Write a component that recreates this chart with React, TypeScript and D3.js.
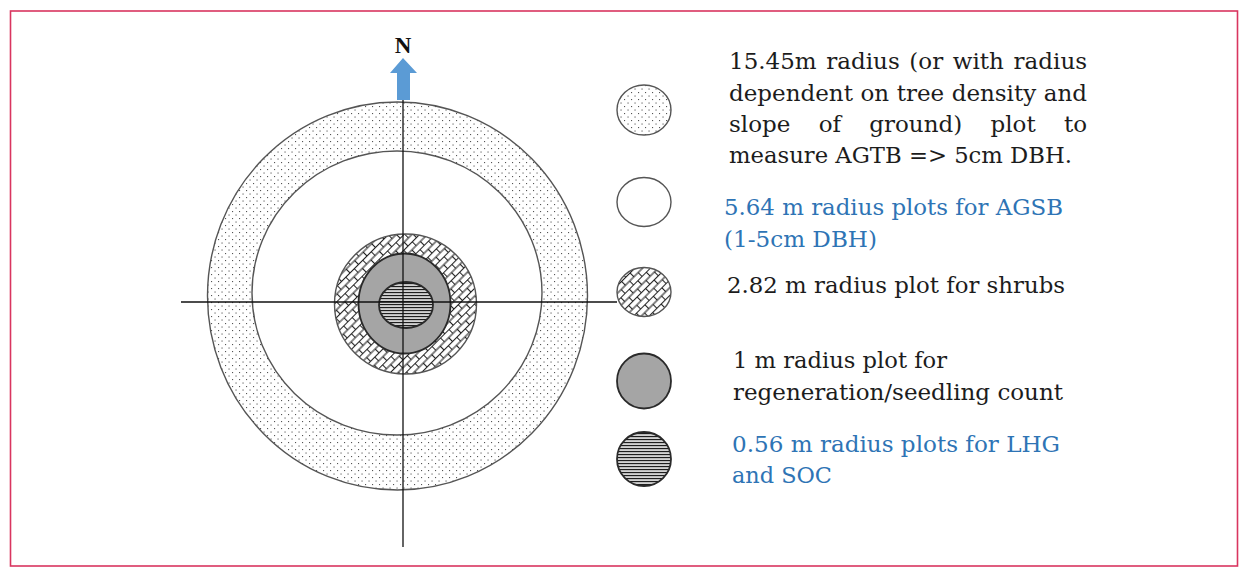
import React, { useEffect, useRef } from 'react';
import * as d3 from 'd3';

const W = 1248;
const H = 576;

// ---- data ----
const plotRadiusM = [15.45, 5.64, 2.82, 1, 0.56];
const plotFill = ['dots', 'white', 'brick', 'gray', 'stripes'];
const legendLines: string[][] = [
  ['15.45m radius (or with radius', 'dependent on tree density and', 'slope of ground) plot to', 'measure AGTB => 5cm DBH.'],
  ['5.64 m radius plots for AGSB', '(1-5cm DBH)'],
  ['2.82 m radius plot for shrubs'],
  ['1 m radius plot for', 'regeneration/seedling count'],
  ['0.56 m radius plots for LHG', 'and SOC'],
];
const legendColor = ['black', 'blue', 'black', 'black', 'blue'];
const justifiedLines = [[true, true, true, false], [false, false], [false], [false, false], [false, false]];

// ---- layout ----
const ringGeom = [
  { cx: 397.5, cy: 296, rx: 190, ry: 194 },
  { cx: 397, cy: 293, rx: 145, ry: 142 },
  { cx: 405.5, cy: 304, rx: 71, ry: 70 },
  { cx: 404.5, cy: 303.5, rx: 46, ry: 50 },
  { cx: 406, cy: 305, rx: 27, ry: 23 },
];
const legendCx = 644;
const legendCy = [110, 202, 292, 381, 459];
const legendRy = [25, 24.5, 24.5, 27.5, 27];
const legendRx = 27;
const textX = [729, 724, 727, 733, 732];
const textBase = [[69, 100.5, 132, 163], [215, 246.5], [293], [368, 400], [452, 483]];
const textRight = [[1087, 1087, 1087, 1072], [1063, 877], [1065], [947, 1063], [1060, 832]];
const colors: Record<string, string> = { black: '#1c1c1c', blue: '#2e74b5' };

const fillFor = (f: string) =>
  f === 'dots' ? 'url(#pDots)' : f === 'brick' ? 'url(#pBrick)' : f === 'gray' ? '#a5a5a5' : f === 'stripes' ? 'url(#pStripes)' : '#ffffff';
const strokeFor = (f: string) => (f === 'gray' || f === 'stripes' ? '#2a2a2a' : '#555555');
const strokeW = (f: string) => (f === 'gray' || f === 'stripes' ? 1.8 : 1.4);

export default function App() {
  const ref = useRef<SVGGElement>(null);

  useEffect(() => {
    const g = d3.select(ref.current);
    g.selectAll('*').remove();
    const font = 'DejaVu Serif';
    const fs = 23;
    legendLines.forEach((lines, i) => {
      lines.forEach((line, j) => {
        const x0 = textX[i];
        const x1 = textRight[i][j];
        const y = textBase[i][j];
        const col = colors[legendColor[i]];
        if (justifiedLines[i][j]) {
          const words = line.split(' ');
          const nodes = words.map((w) =>
            g.append('text').attr('font-family', font).attr('font-size', fs).attr('fill', col).attr('y', y).text(w)
          );
          const widths = nodes.map((n) => (n.node() as SVGTextElement).getComputedTextLength());
          const total = d3.sum(widths);
          const gap = (x1 - x0 - total) / (words.length - 1);
          let x = x0;
          nodes.forEach((n, k) => {
            n.attr('x', x);
            x += widths[k] + gap;
          });
        } else {
          g.append('text')
            .attr('font-family', font)
            .attr('font-size', fs)
            .attr('fill', col)
            .attr('x', x0)
            .attr('y', y)
            .attr('textLength', x1 - x0)
            .attr('lengthAdjust', 'spacingAndGlyphs')
            .text(line);
        }
      });
    });
  }, []);

  const hy = 302;
  const vx = 403;

  return (
    <svg width={W} height={H} style={{ position: 'absolute', left: 0, top: 0 }} xmlns="http://www.w3.org/2000/svg">
      <defs>
        <pattern id="pDots" width={7} height={7} patternUnits="userSpaceOnUse">
          <rect width={7} height={7} fill="#ffffff" />
          <rect x={1} y={1} width={1.1} height={1.1} fill="#555" />
          <rect x={4.5} y={4.5} width={1.1} height={1.1} fill="#555" />
        </pattern>
        <pattern id="pBrick" width={12} height={11} patternUnits="userSpaceOnUse" patternTransform="rotate(-45)">
          <rect width={12} height={11} fill="#ffffff" />
          <line x1={0} y1={0.5} x2={12} y2={0.5} stroke="#222" strokeWidth={1.1} />
          <line x1={0} y1={6} x2={12} y2={6} stroke="#222" strokeWidth={1.1} />
          <line x1={0.5} y1={0.5} x2={0.5} y2={6} stroke="#222" strokeWidth={1.1} />
          <line x1={6.5} y1={6} x2={6.5} y2={11} stroke="#222" strokeWidth={1.1} />
        </pattern>
        <pattern id="pStripes" width={6} height={3} patternUnits="userSpaceOnUse">
          <rect width={6} height={3} fill="#ffffff" />
          <rect y={0.8} width={6} height={1.5} fill="#1e1e1e" />
        </pattern>
      </defs>

      <rect x={10.5} y={11} width={1227} height={555} fill="none" stroke="#d9355f" strokeWidth={1.6} />

      {plotRadiusM.map((m, i) => (
        <ellipse
          key={'r' + m}
          cx={ringGeom[i].cx}
          cy={ringGeom[i].cy}
          rx={ringGeom[i].rx}
          ry={ringGeom[i].ry}
          fill={fillFor(plotFill[i])}
          stroke={strokeFor(plotFill[i])}
          strokeWidth={strokeW(plotFill[i])}
        />
      ))}

      <line x1={181} y1={hy} x2={617} y2={hy} stroke="#111" strokeWidth={1.3} />
      <line x1={vx} y1={100} x2={vx} y2={547} stroke="#111" strokeWidth={1.3} />

      <polygon
        points={`${vx},58 ${vx + 14},73 ${vx + 7},73 ${vx + 7},100 ${vx - 6},100 ${vx - 6},73 ${vx - 13},73`}
        fill="#5b9bd5"
      />
      <text x={vx} y={53} textAnchor="middle" fontFamily="Liberation Serif" fontWeight="bold" fontSize={23} fill="#111">
        N
      </text>

      {plotRadiusM.map((m, i) => (
        <ellipse
          key={'l' + m}
          cx={legendCx}
          cy={legendCy[i]}
          rx={legendRx}
          ry={legendRy[i]}
          fill={fillFor(plotFill[i])}
          stroke={strokeFor(plotFill[i])}
          strokeWidth={strokeW(plotFill[i])}
        />
      ))}

      <g ref={ref} />
    </svg>
  );
}
